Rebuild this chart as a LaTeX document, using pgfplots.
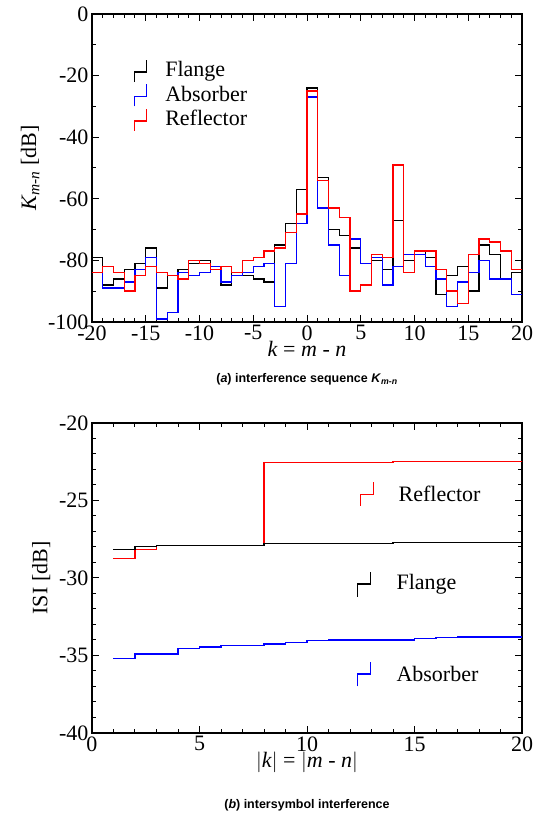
\documentclass[border=0pt]{standalone}
\usepackage{amsmath}
\usepackage{pgfplots}
\pgfplotsset{compat=1.18}
\usepackage{fontspec}
\setmainfont{Liberation Serif}
\newfontfamily\capfont{Liberation Sans}
\begin{document}
\begin{tikzpicture}[x=1pt,y=1pt]
\useasboundingbox (-92,-88) rectangle (454,733);
\pgfplotsset{
  every axis/.append style={
    scale only axis, width=430pt, height=308pt,
    tick align=inside, major tick length=7pt, minor tick length=4pt,
    tick style={black, line width=1pt}, axis line style={line width=1.4pt},
    ticklabel style={font=\fontsize{22}{23}\selectfont},
    label style={font=\fontsize{22}{23}\selectfont},
    /pgf/number format/assume math mode=true,
    legend cell align=left,
  },
  stepleg/.style={legend image code/.code={
    \draw[#1, line width=1.4pt] (0pt,-12pt) -- (0pt,-2pt) -- (12pt,-2pt) -- (12pt,10pt);}},
}
\begin{axis}[at={(0pt,411pt)}, anchor=south west,
  xmin=-20, xmax=20, ymin=-100, ymax=0,
  xtick={-20,-15,...,20}, minor x tick num=4,
  ytick={-100,-80,...,0}, minor y tick num=1,
  xlabel={\textit{k} = \textit{m} - \textit{n}}, ylabel={\textit{K}\textsubscript{\textit{m-n}} [dB]},
  ylabel style={yshift=2pt}, xlabel style={yshift=6pt},
  legend style={draw=none, fill=none, at={(0.09,0.86)}, anchor=north west,
     font=\fontsize{22}{24}\selectfont, row sep=1pt}]
\addplot[const plot, black, line width=1.4pt, stepleg=black] coordinates {
(-20,-79)(-19,-88)(-18,-86)(-17,-83)(-16,-81)(-15,-76)(-14,-89)(-13,-85)(-12,-83)(-11,-81)
(-10,-80)(-9,-83)(-8,-88)(-7,-84)(-6,-85)(-5,-86)(-4,-87)(-3,-75)(-2,-68)(-1,-57)
(0,-24)(1,-53)(2,-70)(3,-72)(4,-76)(5,-81)(6,-80)(7,-83)(8,-67)(9,-80)
(10,-77)(11,-79)(12,-91)(13,-85)(14,-82)(15,-90)(16,-75)(17,-78)(18,-86)(19,-84)(20,-84)};
\addlegendentry{\hspace{16pt}Flange}
\addplot[const plot, blue, line width=1.4pt, stepleg=blue] coordinates {
(-20,-84)(-19,-89)(-18,-89)(-17,-87)(-16,-83)(-15,-79)(-14,-99)(-13,-97)(-12,-84)(-11,-85)
(-10,-84)(-9,-82)(-8,-87)(-7,-85)(-6,-84)(-5,-82)(-4,-81)(-3,-95)(-2,-81)(-1,-68)
(0,-27)(1,-63)(2,-75)(3,-85)(4,-73)(5,-81)(6,-79)(7,-88)(8,-82)(9,-78)
(10,-78)(11,-82)(12,-86)(13,-95)(14,-87)(15,-84)(16,-80)(17,-86)(18,-86)(19,-91)(20,-91)};
\addlegendentry{\hspace{16pt}Absorber}
\addplot[const plot, red, line width=1.4pt, stepleg=red] coordinates {
(-20,-84)(-19,-82)(-18,-84)(-17,-90)(-16,-85)(-15,-82)(-14,-84)(-13,-85)(-12,-86)(-11,-80)
(-10,-81)(-9,-83)(-8,-82)(-7,-84)(-6,-80)(-5,-79)(-4,-77)(-3,-76)(-2,-71)(-1,-65)
(0,-25)(1,-54)(2,-63)(3,-66)(4,-90)(5,-88)(6,-78)(7,-79)(8,-49)(9,-84)
(10,-77)(11,-77)(12,-83)(13,-90)(14,-94)(15,-78)(16,-73)(17,-74)(18,-77)(19,-83)(20,-83)};
\addlegendentry{\hspace{16pt}Reflector}
\end{axis}
\node[font=\capfont\bfseries\fontsize{12.5}{13}\selectfont] at (215,354) {(\textit{a}) interference sequence \textit{K}\textsubscript{\textit{m-n}}};
\begin{axis}[at={(0pt,0pt)}, anchor=south west, height=310pt,
  xmin=0, xmax=20, ymin=-40, ymax=-20,
  xtick={0,5,...,20}, minor x tick num=4,
  ytick={-40,-35,...,-20}, minor y tick num=4,
  xlabel={$|$\textit{k}$|$ = $|$\textit{m} - \textit{n}$|$}, ylabel={ISI [dB]},
  ylabel style={yshift=2pt}, xlabel style={yshift=6pt}]
\addplot[const plot, red, line width=1.4pt] coordinates {
(1,-28.75)(2,-28.15)(3,-27.9)(8,-22.55)(14,-22.5)(20,-22.45)};
\addplot[const plot, black, line width=1.4pt] coordinates {
(1,-28.15)(2,-27.95)(3,-27.9)(8,-27.78)(14,-27.72)(20,-27.67)};
\addplot[const plot, blue, line width=1.4pt] coordinates {
(1,-35.2)(2,-34.9)(4,-34.55)(5,-34.45)(6,-34.35)(8,-34.25)(9,-34.15)(10,-34.05)(11,-34.0)(15,-33.92)(16,-33.85)(17,-33.8)(20,-33.8)};
\draw[red, line width=1.4pt] (axis cs:12.5,-25.35) -- (axis cs:12.5,-24.6) -- (axis cs:13.1,-24.6) -- (axis cs:13.1,-23.8);
\node[anchor=west, font=\fontsize{22}{23}\selectfont] at (axis cs:14.1,-24.6) {Reflector};
\draw[black, line width=1.4pt] (axis cs:12.35,-31.2) -- (axis cs:12.35,-30.4) -- (axis cs:12.95,-30.4) -- (axis cs:12.95,-29.6);
\node[anchor=west, font=\fontsize{22}{23}\selectfont] at (axis cs:14.0,-30.4) {Flange};
\draw[blue, line width=1.4pt] (axis cs:12.35,-37.0) -- (axis cs:12.35,-36.2) -- (axis cs:12.95,-36.2) -- (axis cs:12.95,-35.4);
\node[anchor=west, font=\fontsize{22}{23}\selectfont] at (axis cs:14.0,-36.2) {Absorber};
\end{axis}
\node[font=\capfont\bfseries\fontsize{12.5}{13}\selectfont] at (215,-72) {(\textit{b}) intersymbol interference};
\end{tikzpicture}
\end{document}
